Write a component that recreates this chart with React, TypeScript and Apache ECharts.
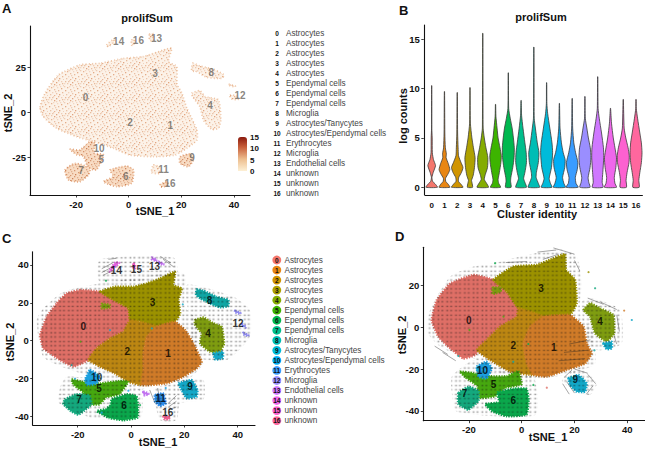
import React, { useEffect, useRef } from "react";
import * as echarts from "echarts";

type P = [number, number];
const FONT = "Liberation Sans, Arial, sans-serif";

const clusterIds = ["0","1","2","3","4","5","6","7","8","9","10","11","12","13","14","15","16"];
const clusterNames = ["Astrocytes","Astrocytes","Astrocytes","Astrocytes","Astrocytes","Ependymal cells","Ependymal cells","Ependymal cells","Microglia","Astrocytes/Tanycytes","Astrocytes/Ependymal cells","Erythrocytes","Microglia","Endothelial cells","unknown","unknown","unknown"];
const brightColors = ["#F4766C","#E88613","#D09400","#AFA100","#84AC00","#3DB400","#00B84F","#00BE8C","#00BDB5","#00BBDA","#00AEF5","#3A9CFF","#9A8EFF","#CF78FF","#EF67EB","#FC61D0","#FF679E"];
const blobColors = ["#DF6F66","#D07B28","#BD8712","#9C9200","#7F9D10","#46A80F","#0BA84C","#14A97E","#0FA6A4","#13A8C8","#1CA0E0","#2C8FF0","#8F8AF0","#C070F0","#E45FE0","#F05CC0","#F0608F"];

// Panel A: outlines in tSNE units, feature map
const aMain: P[] = [[-33.7,2.8],[-31.8,10.5],[-26.7,20.6],[-18.5,26.2],[-10.9,27.1],[-2,29.8],[5.6,30.8],[13.2,34.4],[16.3,35.4],[15.1,28],[18.3,25.2],[18.3,16],[20.2,10.5],[22.1,2.2],[25.9,-9.8],[25.9,-15.3],[22.1,-19.9],[17.6,-23.6],[9.4,-24.5],[0.5,-23.6],[-5.8,-19.9],[-13.4,-16.2],[-19.8,-13.4],[-27.4,-8.8],[-32.4,-2.4]];
const aFour: P[] = [[24,10.5],[27.1,12],[29,8.7],[34.1,6.8],[35,-4.2],[34.1,-8.8],[31.6,-9.4],[28.4,-4.2],[27.1,3.1],[24.6,7.9]];
const aEight: P[] = [[24.3,27.1],[27.1,25.6],[32.2,23.8],[36.2,20.6],[35.4,18.8],[29.7,19.3],[25.9,22.5],[24,23]];
const aTwelve: P[] = [[38.5,9.5],[41,9],[41.5,7],[39,7.5]];
const aTwelveB: P[] = [[38,15.5],[40.5,14.5],[40.5,14],[38,15]];
const aFive: P[] = [[-22.3,-20.4],[-18.5,-20.8],[-14.7,-16.2],[-12.8,-17.1],[-13.4,-22.5],[-9.6,-23.4],[-12.2,-31.7],[-15.3,-30.8],[-17.2,-24.3],[-19.8,-23.4]];
const aSeven: P[] = [[-24.2,-31.9],[-20.4,-28.2],[-14.7,-30.9],[-15.3,-34.6],[-18.5,-38.3],[-22.9,-37.4]];
const aSix: P[] = [[-7.1,-31.9],[-0.8,-29.7],[1.8,-31.9],[1.1,-39.2],[-4.6,-41.1],[-9.6,-38.3],[-5.8,-35.5]];
const aNine: P[] = [[19.5,-24.5],[23.3,-23],[24.6,-26.3],[22.7,-30],[19.5,-28.2]];
const aEleven: P[] = [[9.4,-29.1],[11.3,-30],[11.7,-33.7],[8.7,-33.3]];
const aSixteen: P[] = [[11.9,-40.1],[14.4,-38.3],[15.1,-40.1],[12.5,-41.4]];
const aFourteen: P[] = [[-8.4,37.2],[-5.8,40.3],[-5.6,39],[-7.7,36.3]];
const aThirteen: P[] = [[7.9,43.1],[9.1,43.6],[9.4,39.6],[7.9,40]];
const aFifteen: P[] = [[1.1,40],[2,40.3],[2,37.2],[1.1,37.2]];
const aLight = [aMain, aFour, aEight, aTwelve, aTwelveB, aFourteen, aThirteen, aFifteen, aEleven];
const aDark = [aFive, aSeven, aSix, aNine, aSixteen];
const aLabels: [number, number, string][] = [[-16.4,8.3,"0"],[15.8,-7.4,"1"],[0.5,-5.7,"2"],[10,21.3,"3"],[30.9,4,"4"],[-10.4,-26,"5"],[-1.1,-35.7,"6"],[-18.1,-32.4,"7"],[31.4,21.9,"8"],[24.1,-25.2,"9"],[-11.3,-19.9,"10"],[13.2,-31.5,"11"],[42.3,9.2,"12"],[10.6,41,"13"],[-3.8,39,"14"],[3.7,39.6,"16"],[15.7,-39.6,"16"]];

// Panel C outlines
const cBlobs: [number, P[]][] = [
  [0, [[-19.1,26.8],[-11.6,25.9],[-6.6,21.5],[-1,17.1],[-0.4,10.9],[-2.9,4.8],[-7.9,1.2],[-12.9,-4],[-16,-10.2],[-21.6,-13.7],[-26.6,-10.2],[-32.9,-4],[-34.1,3],[-31.6,12.7],[-27.9,19.7],[-24.1,25]]],
  [3, [[-11.6,25.9],[-6,28.5],[0.9,28.5],[5.9,30.3],[10.9,32.9],[16.5,36.4],[15.9,29.4],[19,27.6],[17.8,21.5],[18.4,14.4],[16.5,10],[9.6,7.4],[3.4,10],[-0.4,10.9],[-1,17.1],[-6.6,21.5]]],
  [2, [[-0.4,10.9],[3.4,10],[9.6,7.4],[5.9,2.1],[4.6,-6.7],[4.6,-15.5],[4,-23.4],[-1,-21.7],[-6,-17.3],[-11.6,-13.7],[-16,-10.2],[-12.9,-4],[-7.9,1.2],[-2.9,4.8]]],
  [1, [[9.6,7.4],[16.5,10],[20.3,5.6],[23.4,-1.4],[26.5,-11.1],[24.6,-14.6],[19.6,-19],[13.4,-22.5],[4,-23.4],[4.6,-15.5],[4.6,-6.7],[5.9,2.1]]],
  [4, [[24,10.9],[27.1,12.3],[30.9,9.2],[34,7.4],[34.9,-1.4],[33.4,-5.8],[29.6,-5.8],[25.9,-1.4],[26.5,3.9],[24,8.3]]],
  [9, [[30.9,-6.7],[34.4,-5.8],[34.4,-9.3],[31.6,-9.9]]],
  [8, [[24.6,27.1],[27.1,26.4],[32.1,23.2],[36.5,21.5],[36.5,18.3],[33.4,17.6],[29.6,19.7],[25.9,22.4],[24.4,24.1]]],
  [9, [[17.8,-22.5],[22.8,-20.8],[24.9,-26.1],[24.6,-29.6],[20.9,-30.5],[19,-26.1]]],
  [5, [[-22.3,-20.4],[-16.6,-22.2],[-11.6,-22.6],[-4.1,-21.2],[-1,-21.5],[-4.4,-28.2],[-9.4,-30],[-11.9,-33.6],[-17,-33.4],[-17.8,-27.4],[-21.5,-23.4]]],
  [10, [[-15.4,-15.5],[-11.6,-19],[-12.9,-22.5],[-16.4,-23.4],[-17.3,-20.8]]],
  [7, [[-24.9,-31],[-20.4,-28.2],[-15.6,-29],[-14.8,-33.4],[-17.6,-37],[-19.8,-39],[-22.6,-37.2],[-25.4,-33.4]]],
  [6, [[-7.2,-30.8],[-1.6,-28.2],[2,-29.2],[2.6,-35],[2.4,-40.6],[-2.9,-42],[-8.2,-40.8],[-12.8,-37.2],[-9.4,-36],[-7.8,-34]]],
  [11, [[9,-28.7],[12,-27.8],[13,-33.1],[10.9,-34.5],[9,-32.2]]],
  [12, [[39,15.8],[41,14.8],[41,14.2],[39,15]]],
  [12, [[41.6,8.8],[43,7.7],[43,7],[41.6,8]]],
  [12, [[42.1,4.2],[44,3],[44,2.4],[42.1,3.4]]],
  [13, [[7.8,44],[9.4,43],[9.4,42],[7.8,43]]],
  [13, [[10.3,41.7],[12.1,40.8],[12.1,40],[10.3,41]]],
  [14, [[-7.9,37.3],[-6,41.2],[-4.4,41.2],[-6.6,38.2],[-7.9,36.4]]],
  [15, [[0.9,40.5],[1.5,40.5],[1.5,38.2],[0.9,38.2]]],
  [16, [[12.1,-40.1],[13.4,-39.8],[14.6,-40.1],[14,-41.4],[12.5,-41.4]]],
  [13, [[4.6,-26.9],[6.5,-27.8],[6.5,-28.7],[4.6,-28]]],
  [4, [[-11,19.5],[-8,19],[-8,17.5],[-11,17]]],
];
const cStray: [number, number, number][] = [[-7.9,5.6,9],[7.8,6.5,9],[19.4,19.2,9],[-9.4,31.7,6],[-1,-26.4,10],[3.4,-34,6],[-19,-0.5,5],[-22.3,-12.9,8],[-21,-20,10],[13,-25,10],[-11,-38,10],[5,-29,13]];
const cField: P[][] = [
  [[-25.4,25.8],[-11.6,30.3],[0.9,33],[17.1,36.4],[20.3,34.7],[20.3,18],[24.6,10.9],[24.6,-6.7],[27.1,-12],[20.9,-20.8],[9.6,-22.5],[3.4,-26.1],[-14,-19],[-22.9,-15.5],[-32.9,-8.5],[-35.4,10.9],[-32.9,17.1]],
  [[-24.1,-19],[-11.6,-20.8],[3.4,-26.1],[3.4,-41],[-14,-41],[-27,-33],[-26.6,-24.6]],
  [[12.1,-23.4],[17.1,-20.8],[27.1,-20.8],[27.1,-31.3],[18.4,-33.1],[17.1,-42],[11,-42],[8.4,-26.1]],
  [[20.9,29.4],[38.4,23.2],[44.6,16.2],[44.6,2.1],[35.9,-10.2],[24.6,-8.5],[22.1,10.9]],
  [[-11.6,43],[15.9,44],[17.1,35],[-11.6,31]],
];
const cLabels: [number, number, string][] = [[-17.9,7.7,"0"],[13.9,-7,"1"],[-1.4,-5.6,"2"],[8.1,20.2,"3"],[28.9,3.9,"4"],[-12,-25,"5"],[-2.6,-34.2,"6"],[-19.5,-30.8,"7"],[29.4,21.1,"8"],[22.1,-24.1,"9"],[-12.9,-19.2,"10"],[11.1,-30.6,"11"],[40.1,9.2,"12"],[8.8,39.1,"13"],[-5.5,37.3,"14"],[2,37.7,"15"],[13.8,-38,"16"]];
const cArrows: P[][] = [
  [[-11,38],[-7,41]],[[-11,36],[-7,39]],[[-10.5,34.5],[-7,37]],[[-8.5,43],[-5.5,43.5]],[[9,-33],[7,-26]],[[11,-34],[10,-25]],[[14,-33],[17,-29]],[[14,-35],[17,-32]],[[14,-36.5],[17,-35]],[[11,44.5],[15,41]],[[12,43],[16,39]],
];

// Panel D outlines
const dBlobs: [number, P[]][] = [
  [0, [[-18.3,25.1],[-10.7,22.7],[-5.7,17.1],[-1.3,9.1],[-1.9,5.1],[-8.2,0.3],[-13.3,-6.1],[-17.7,-13.3],[-22.1,-14.9],[-27.1,-10.1],[-31.6,-4.5],[-34.1,3.5],[-32.2,13],[-27.1,21]]],
  [3, [[-10.7,22.7],[-3.2,29.1],[5.7,29.9],[12,33.1],[16.4,35],[16.8,27.5],[20.2,22.7],[20.8,11.5],[18.3,5.9],[8.2,5.1],[-1.3,9.1],[-5.7,17.1]]],
  [2, [[-1.3,9.1],[8.2,5.1],[3.2,0.3],[0.6,-7.7],[1.9,-17.3],[4.4,-22.8],[-4.4,-21.2],[-12,-15.7],[-17,-10.9],[-13.3,-6.1],[-8.2,0.3],[-1.9,5.1]]],
  [1, [[8.2,5.1],[18.3,5.9],[23.4,0.3],[24.6,-7.7],[26.5,-12.5],[24,-17.3],[17,-20.4],[9.5,-23.6],[4.4,-22.8],[1.9,-17.3],[0.6,-7.7],[3.2,0.3]]],
  [4, [[23.4,8.3],[25.9,11.5],[29.7,9.1],[34.7,5.9],[35,-2.9],[32.2,-6.9],[27.8,-2.9],[25.9,5.1]]],
  [9, [[30.9,-7.7],[34.1,-6.9],[34.1,-10.1],[32.2,-10.5]]],
  [5, [[-23.4,-21.2],[-18.3,-22],[-12,-23.4],[-5.7,-23.4],[-1.3,-21],[-0.1,-27.2],[-6.4,-29],[-10.2,-33],[-15.7,-33.8],[-16.9,-28],[-21.3,-24]]],
  [10, [[-17,-18.8],[-13.3,-16.5],[-11.4,-19.6],[-13.3,-24.4],[-16.4,-23.6]]],
  [7, [[-24,-31.4],[-20.2,-28.4],[-16.4,-30.4],[-16.4,-35.2],[-20.2,-39.4],[-24,-36.8]]],
  [6, [[-9.2,-31.2],[-3.2,-29.4],[1.8,-29.4],[2.6,-34.8],[1.8,-41.8],[-5.7,-42.6],[-11.2,-40.2],[-13.8,-36.8],[-8.6,-35.8]]],
  [9, [[17.7,-24.4],[21.5,-22.8],[24.6,-26.8],[24,-30.8],[20.8,-30.8],[18.3,-27.6]]],
  [4, [[-11,19],[-8,19],[-8,17],[-11,16]]],
];
const dStray: [number, number, number][] = [[27.8,18.7,7],[38.8,8,1],[41.7,3.5,9],[25.3,26.4,3],[-10.1,30.7,6],[9.5,-28.9,0],[4.4,-27.6,6],[-24,-13.7,8],[-6.9,5.1,5],[-19.8,-1.3,5],[2.5,-8,6],[-3.2,-16.5,8],[27.5,-11,8],[-17,-20,9]];
const dField: P[][] = [
  [[-34.7,8.3],[-27.1,24.3],[-18.3,29.1],[-10.7,30.7],[-0.6,33.9],[14.5,37.4],[20.8,33.9],[22.7,21.1],[22.1,6.7],[27.1,-2.9],[27.8,-17.3],[19,-22],[4,-25],[-10,-21],[-18,-15],[-30,-10],[-36,-2]],
  [[22.7,12.3],[27.1,13.9],[37.2,8.3],[37.9,-7.7],[28.4,-10.9],[24.6,-4.5]],
  [[15.2,-25.2],[22.1,-19.6],[28.4,-26.8],[25.9,-32.4],[19.6,-30]],
  [[-26.5,-23.6],[-18.3,-15.7],[-10.7,-18.8],[4.4,-23.6],[5.1,-42],[-24.6,-40.4],[-26.5,-31.6]],
];
const dLabels: [number, number, string][] = [[-20.1,3.5,"0"],[12.1,-9.7,"1"],[-3.2,-8.6,"2"],[7.3,18.4,"3"],[29.7,2.7,"4"],[-10.7,-27.5,"5"],[-3.2,-35.1,"6"],[-21.7,-31.6,"7"],[20.3,-25.2,"9"],[-14.9,-20.8,"10"]];
const dArrows: P[][] = [
  [[16,-24],[19,-20.5]],[[20,-20],[25,-22]],[[25,-22.5],[28,-27]],[[27,-28],[24.5,-32]],[[17,-26],[20,-31.5]],[[15.5,-27],[18,-32]],
  [[25,14],[31,11]],[[30,12],[36,8.5]],[[36,6],[37,-2]],[[35,-4],[36,-8]],[[6,36],[13,37]],[[12,38],[20,35]],[[20,32],[22,27]],[[-6,31],[2,31.5]],[[8,32.5],[14,35]],
  [[-33,-9],[-28,-13]],[[-30,-12],[-25,-16]],[[18,-8],[26,-6]],[[16,-12],[25,-11]],[[14,-16],[24,-15]],
];

// Panel B: violin profiles, [log counts, half width as a share of the category band]
const v0: P[] = [[0,.45],[.3,.3],[.6,.08],[1,.02],[1.5,.12],[2.2,.3],[2.8,.14],[3.5,.05],[5,.04],[6,.01],[10.3,.01]];
const v1: P[] = [[0,.42],[.3,.3],[.6,.1],[.9,.08],[1.4,.3],[1.8,.42],[2.4,.3],[3,.13],[3.4,.15],[4,.07],[5.5,.03],[9.7,.01]];
const v2: P[] = [[0,.45],[.3,.3],[.6,.1],[1,.12],[1.5,.33],[2,.45],[2.5,.3],[3.2,.1],[4,.07],[5.5,.03],[9.6,.01]];
const v3: P[] = [[0,.2],[.5,.15],[.7,.12],[1.2,.25],[2,.35],[3,.4],[4,.27],[5,.15],[6.5,.03],[10.1,.01]];
const v4: P[] = [[0,.45],[.4,.3],[.8,.12],[1.3,.2],[2,.37],[3,.4],[4,.25],[5,.12],[6,.03],[15.6,.01]];
const v5: P[] = [[0,.4],[.4,.25],[.8,.2],[1.5,.3],[2.5,.42],[3.2,.45],[4,.35],[5,.2],[6,.12],[7.2,.03],[8.4,.01]];
const v6: P[] = [[0,.22],[.6,.18],[1,.2],[2,.35],[3,.45],[4,.47],[5,.4],[6,.3],[7,.15],[8,.03],[11.6,.01]];
const v7: P[] = [[0,.42],[.5,.3],[.9,.2],[1.5,.3],[2.5,.42],[3.5,.4],[4.5,.3],[6,.15],[7.3,.04],[8.8,.01]];
const v8: P[] = [[0,.45],[.4,.35],[1,.18],[1.5,.2],[2.5,.35],[3.5,.4],[4.5,.27],[6,.12],[7,.03],[14.2,.01]];
const v9: P[] = [[0,.42],[.4,.3],[.9,.2],[2,.38],[3.5,.47],[4.5,.42],[6,.25],[7.5,.08],[8.5,.02],[10.6,.01]];
const v10: P[] = [[0,.47],[.4,.35],[1,.25],[2,.42],[2.8,.45],[3.5,.3],[4.5,.16],[6,.05],[8.5,.01]];
const v11: P[] = [[0,.47],[.4,.3],[1,.25],[1.8,.4],[2.5,.45],[3.5,.27],[4.5,.13],[6,.04],[9,.01]];
const v12: P[] = [[0,.4],[.5,.3],[1,.25],[2,.4],[3,.47],[4,.42],[5,.27],[6,.15],[7,.03],[9.2,.01]];
const v13: P[] = [[0,.42],[.5,.35],[1.5,.4],[3,.47],[4,.45],[5.5,.3],[7,.12],[8,.03],[11.2,.01]];
const v14: P[] = [[0,.47],[.4,.35],[1,.3],[2,.42],[3,.47],[4,.35],[5,.22],[6.5,.08],[8,.01]];
const v15: P[] = [[0,.25],[.7,.22],[1.5,.3],[2.5,.45],[3.2,.47],[4,.38],[5,.2],[6,.07],[8.9,.01]];
const v16: P[] = [[0,.25],[.7,.22],[1.5,.3],[2.5,.42],[3.5,.47],[4.5,.42],[5.5,.3],[7,.12],[8,.02],[8.9,.01]];
const violins = [v0,v1,v2,v3,v4,v5,v6,v7,v8,v9,v10,v11,v12,v13,v14,v15,v16];

const speckle: [number, number, number][] = [[1,1,.6],[5,0,.35],[8,2,.8],[13,1,.4],[3,3,.45],[11,4,.55],[6,4,.8],[15,5,.35],[0,6,.4],[3,7,.65],[9,7,.3],[13,8,.75],[6,9,.55],[1,10,.75],[10,10,.6],[4,12,.35],[8,13,.5],[14,12,.6],[2,14,.5],[11,14,.8],[6,15,.65],[15,15,.35],[12,6,.3],[7,11,.4],[4,1,.5],[10,0,.6],[0,3,.3],[14,3,.6],[5,6,.3],[8,5,.35]];

function dashTile(step: number, color: string) {
  const c = document.createElement("canvas");
  c.width = c.height = step * 2;
  const g = c.getContext("2d")!;
  g.fillStyle = color;
  for (const [x, y] of [[0, 0], [1, 0], [0, 1], [1, 1]]) {
    g.fillRect(x * step + 1.4, y * step + 1.8, 1.5, 0.9);
  }
  return { type: "pattern", image: c, repeat: "repeat", imageWidth: step * 2, imageHeight: step * 2 };
}
function speckleTile(color: string) {
  const c = document.createElement("canvas");
  c.width = c.height = 16;
  const g = c.getContext("2d")!;
  for (const [x, y, a] of speckle) {
    g.globalAlpha = a;
    g.fillStyle = color;
    g.fillRect(x, y, 1.3, 1.3);
  }
  return { type: "pattern", image: c, repeat: "repeat", imageWidth: 16, imageHeight: 16 };
}

const polySeries = (axis: number, polys: P[][], style: any, z = 2) => ({
  type: "custom", xAxisIndex: axis, yAxisIndex: axis, z, silent: true,
  data: polys.map((_, i) => [i]),
  renderItem: (p: any, api: any) => ({
    type: "polygon",
    shape: { points: polys[p.dataIndex].map((q) => api.coord(q)), smooth: 0.2 },
    style: { ...style },
  }),
});
const blobSeries = (axis: number, blobs: [number, P[]][]) => ({
  type: "custom", xAxisIndex: axis, yAxisIndex: axis, z: 2, silent: true,
  data: blobs.map((_, i) => [i]),
  renderItem: (p: any, api: any) => ({
    type: "polygon",
    shape: { points: blobs[p.dataIndex][1].map((q) => api.coord(q)), smooth: 0.12 },
    style: { fill: blobColors[blobs[p.dataIndex][0]], stroke: blobColors[blobs[p.dataIndex][0]], lineWidth: 2.4, lineDash: [1.4, 1.2] },
  }),
});
const strayScatter = (axis: number, stray: [number, number, number][]) => ({
  type: "scatter", xAxisIndex: axis, yAxisIndex: axis, z: 3, silent: true, symbolSize: 2.2,
  data: stray.map(([x, y, k]) => ({ value: [x, y], itemStyle: { color: blobColors[k] } })),
});
const arrowSeries = (axis: number, arrows: P[][]) => ({
  type: "custom", xAxisIndex: axis, yAxisIndex: axis, z: 4, silent: true,
  data: arrows.map((_, i) => [i]),
  renderItem: (p: any, api: any) => ({
    type: "polyline",
    shape: { points: arrows[p.dataIndex].map((q) => api.coord(q)) },
    style: { fill: "none", stroke: "#222", lineWidth: 0.5, opacity: 0.8 },
  }),
});
const labelSeries = (axis: number, labels: [number, number, string][], color: string, size: number) => ({
  type: "scatter", xAxisIndex: axis, yAxisIndex: axis, z: 6, silent: true, symbolSize: 0,
  data: labels.map(([x, y, t]) => ({ value: [x, y], name: t })),
  label: { show: true, position: "inside", formatter: "{b}", color, fontFamily: FONT, fontWeight: "bold", fontSize: size },
});

const gridOf = (l: number, t: number, r: number, b: number) => ({ left: l, top: t, width: r - l, height: b - t });
const valAxis = (gridIndex: number, min: number, max: number, ticks: number[], offset = 0) => ({
  type: "value", gridIndex, min, max, offset, splitLine: { show: false },
  axisLine: { show: true, onZero: false, lineStyle: { color: "#111", width: 1.1 } },
  axisTick: { show: true, length: 2.5, lineStyle: { color: "#111", width: 0.8 }, customValues: ticks },
  axisLabel: { color: "#111", fontFamily: FONT, fontWeight: "bold", fontSize: 9.5, margin: 4, customValues: ticks, showMinLabel: true, showMaxLabel: true },
});

const txt = (x: number, y: number, text: string, size: number, opts: any = {}, rotation = 0) => ({
  type: "text", x, y, rotation, z: 10, silent: true,
  style: { text, fontFamily: FONT, fontSize: size, fontWeight: "bold", fill: "#111", align: "center", verticalAlign: "middle", ...opts },
});

export default function App() {
  const ref = useRef<HTMLDivElement>(null);
  useEffect(() => {
    const chart = echarts.init(ref.current!, undefined, { renderer: "svg" });
    const dashes = dashTile(4.4, "#111");
    const graphics: any[] = [
      txt(2, 8, "A", 13, { align: "left" }), txt(399, 10, "B", 13, { align: "left" }),
      txt(2, 238, "C", 13, { align: "left" }), txt(395, 236, "D", 13, { align: "left" }),
      txt(147, 18, "prolifSum", 11),
      txt(541, 17, "prolifSum", 11),
      txt(155, 211, "tSNE_1", 11), txt(158, 442, "tSNE_1", 11), txt(548, 437, "tSNE_1", 11),
      txt(537, 214, "Cluster identity", 11),
      txt(8, 113, "tSNE_2", 11, {}, Math.PI / 2), txt(10, 342, "tSNE_2", 11, {}, Math.PI / 2),
      txt(402, 335, "tSNE_2", 11, {}, Math.PI / 2), txt(403, 116, "log counts", 11, {}, Math.PI / 2),
      {
        type: "rect", z: 9, silent: true, shape: { x: 238, y: 137, width: 9, height: 34, r: [3, 3, 0, 0] },
        style: { fill: new echarts.graphic.LinearGradient(0, 0, 0, 1, [
          { offset: 0, color: "#8B1A0E" }, { offset: 0.3, color: "#C8603C" }, { offset: 0.65, color: "#EDBE8F" }, { offset: 1, color: "#FDF0D5" },
        ]) },
      },
      ...["15", "10", "5", "0"].map((t, i) => txt(250, [137, 148, 160, 171][i], t, 8, { align: "left" })),
    ];
    clusterIds.forEach((id, i) => {
      const yA = 33 + i * 10;
      graphics.push(txt(277, yA, id, 6.5));
      graphics.push(txt(286, yA, clusterNames[i], 8.2, { align: "left", fontWeight: "normal", fill: "#444" }));
      const yC = 260 + i * 10.04;
      graphics.push({ type: "circle", z: 9, silent: true, shape: { cx: 276.8, cy: yC, r: 4.4 }, style: { fill: brightColors[i] } });
      graphics.push(txt(276.8, yC, id, 6.5));
      graphics.push(txt(284.5, yC, clusterNames[i], 8.2, { align: "left", fontWeight: "normal", fill: "#444" }));
    });

    const violinSeries = {
      type: "custom", xAxisIndex: 1, yAxisIndex: 1, z: 2, silent: true,
      data: violins.map((_, i) => [i]),
      renderItem: (p: any, api: any) => {
        const i = p.dataIndex;
        const band = api.size([1, 0])[0];
        const cx = api.coord([i, 0])[0];
        const prof = violins[i];
        const right = prof.map(([y, w]) => [cx + w * band, api.coord([i, y])[1]]);
        const left = prof.slice().reverse().map(([y, w]) => [cx - w * band, api.coord([i, y])[1]]);
        return {
          type: "polygon",
          shape: { points: [...right, ...left], smooth: 0.2 },
          style: { fill: brightColors[i], stroke: "#3a3a3a", lineWidth: 0.8 },
        };
      },
    };

    chart.setOption({
      animation: false,
      backgroundColor: "#fff",
      grid: [gridOf(30, 26, 250, 195), gridOf(425.3, 25, 642.4, 195), gridOf(32.7, 251.7, 255, 425), gridOf(423.3, 247.3, 645, 420.7)],
      xAxis: [
        valAxis(0, -37.5, 46.1, [-20, 0, 20, 40]),
        {
          type: "category", gridIndex: 1, data: clusterIds, splitLine: { show: false },
          axisLine: { show: true, onZero: false, lineStyle: { color: "#111", width: 1.1 } }, axisTick: { show: false },
          axisLabel: { color: "#111", fontFamily: FONT, fontWeight: "bold", fontSize: 8, margin: 6, interval: 0 },
        },
        valAxis(2, -36.9, 46.5, [-20, 0, 20, 40]),
        valAxis(3, -37.3, 46.7, [-20, 0, 20, 40]),
      ],
      yAxis: [
        valAxis(0, -45.7, 47.7, [-25, 0, 25]),
        valAxis(1, -0.78, 16.44, [0, 5, 10, 15], 1.5),
        valAxis(2, -44.5, 47, [-40, -20, 0, 20, 40]),
        valAxis(3, -44.7, 38.3, [-40, -20, 0, 20]),
      ],
      graphic: graphics,
      series: [
        polySeries(0, aLight, { fill: "#FCF2E8", stroke: "#EFC6A6", lineWidth: 1.8, lineDash: [1, 2.2] }, 1),
        polySeries(0, aLight, { fill: speckleTile("#DB9468") }, 2),
        polySeries(0, aDark, { fill: "#F8DCC4", stroke: "#E6AC85", lineWidth: 1.8, lineDash: [1, 2] }, 1),
        polySeries(0, aDark, { fill: speckleTile("#C26C3E") }, 2),
        labelSeries(0, aLabels, "#6a6660", 10),
        violinSeries,
        blobSeries(2, cBlobs),
        strayScatter(2, cStray),
        polySeries(2, cField, { fill: dashes, opacity: 0.75 }, 3),
        arrowSeries(2, cArrows),
        labelSeries(2, cLabels, "#000", 10),
        blobSeries(3, dBlobs),
        strayScatter(3, dStray),
        polySeries(3, dField, { fill: dashes, opacity: 0.7 }, 3),
        arrowSeries(3, dArrows),
        labelSeries(3, dLabels, "#000", 10),
      ],
    } as any);
    return () => chart.dispose();
  }, []);
  return <div ref={ref} style={{ position: "absolute", left: 0, top: 0, width: 645, height: 449 }} />;
}
